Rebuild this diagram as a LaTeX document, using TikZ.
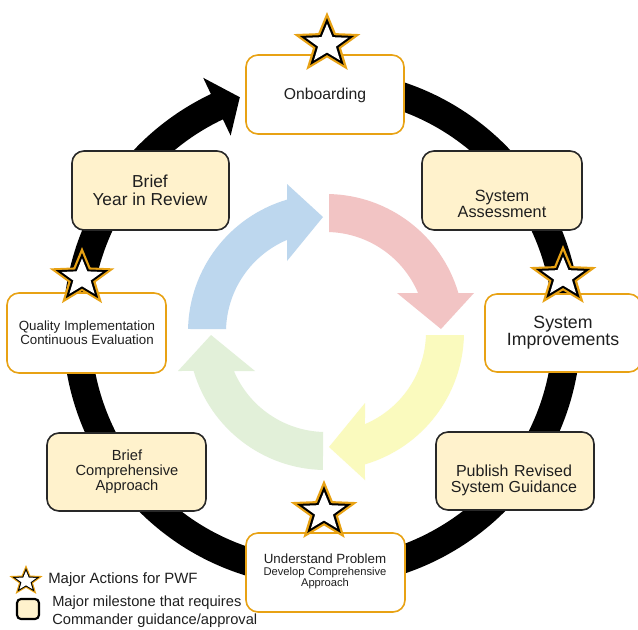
\documentclass[tikz,border=0pt]{standalone}
\usepackage{fontspec}
\setmainfont{Liberation Sans}
\definecolor{orng}{RGB}{232,162,20}
\definecolor{cream}{RGB}{255,242,204}
\definecolor{dark}{RGB}{40,40,40}
\definecolor{ablue}{RGB}{189,215,238}
\definecolor{ared}{RGB}{242,196,196}
\definecolor{ayel}{RGB}{250,250,190}
\definecolor{agrn}{RGB}{226,240,217}
\newcommand{\starshape}[1]{(-90:{#1}) -- (-54:{0.42*#1}) -- (-18:{#1}) -- (18:{0.42*#1}) -- (54:{#1}) -- (90:{0.42*#1}) -- (126:{#1}) -- (162:{0.42*#1}) -- (198:{#1}) -- (234:{0.42*#1}) -- cycle}
\newcommand{\armystar}[3]{%
  \begin{scope}[shift={(#1,#2)}, xscale=1.1]
    \fill[orng] \starshape{#3};
    \fill[black] \starshape{0.81*#3};
    \fill[white] \starshape{0.63*#3};
  \end{scope}}
\newcommand{\innerarrow}{(181.25:138) arc[start angle=181.25, end angle=253.6, radius=138] -- (-39,-148) -- (-3,-115) -- (-39,-71) -- (247.05:100) arc[start angle=247.05, end angle=181.72, radius=100] -- cycle}
\newcommand{\boxnode}[6]{\node[#2, minimum width={(#5-#3)*0.75pt}, minimum height={(#6-#4)*0.75pt}] (#1) at ({(#3+#5)/2},{(#4+#6)/2}) {};}
\begin{document}
\begin{tikzpicture}[x=0.75pt,y=-0.75pt,
  obox/.style={draw=orng, line width=1.2pt, fill=white, rounded corners=9pt, inner sep=0pt},
  cbox/.style={draw=dark, line width=1.2pt, fill=cream, rounded corners=9pt, inner sep=0pt},
  lbl/.style={align=center, inner sep=0pt, text=black!88}]
\useasboundingbox (0,0) rectangle (638,629);
\fill[white] (0,0) rectangle (638,629);

% black ring
\begin{scope}[shift={(322,328)}]
  \draw[line width=21pt] (-80:245) arc[start angle=-80, end angle=246, radius=245];
  \fill (244.6:277) -- (250.4:245) -- (244.6:213) -- cycle;
\end{scope}

% inner cycle arrows
\begin{scope}[shift={(326,332)}]
  \fill[ablue] \innerarrow;
  \begin{scope}[rotate=-90] \fill[ared] \innerarrow; \end{scope}
  \begin{scope}[rotate=-180] \fill[ayel] \innerarrow; \end{scope}
  \begin{scope}[rotate=-270] \fill[agrn] \innerarrow; \end{scope}
\end{scope}

% boxes
\boxnode{ob}{obox}{246}{55}{404}{134}
\boxnode{sa}{cbox}{422}{151}{582}{230}
\boxnode{si}{obox}{485}{294}{641}{372}
\boxnode{pr}{cbox}{436}{432}{594}{510}
\boxnode{up}{obox}{246}{533}{405}{612}
\boxnode{bc}{cbox}{47}{433}{206}{511}
\boxnode{qi}{obox}{7}{293}{166}{373}
\boxnode{by}{cbox}{72}{151}{229}{230}

% labels
\node[lbl, font=\fontsize{11.8}{14}\selectfont] (obt) at (325,95) {Onboarding};
\node[lbl, font=\fontsize{12.2}{12}\selectfont] (sat) at (502,204) {System\\Assessment};
\node[lbl, font=\fontsize{13.3}{12.75}\selectfont] (sit) at (563,333) {System\\Improvements};
\node[lbl, font=\fontsize{12}{12}\selectfont] (prt) at (514,480) {Publish\hspace{0.35em}Revised\\System Guidance};
\node[lbl, font=\fontsize{10}{12}\selectfont] (upt) at (325,559) {Understand Problem};
\node[lbl, font=\fontsize{8.4}{8.25}\selectfont] (upd) at (325,578.5) {Develop\hspace{0.3em}Comprehensive\\Approach};
\node[lbl, font=\fontsize{11}{11.25}\selectfont] (bct) at (127,472) {Brief\\Comprehensive\\Approach};
\node[lbl, font=\fontsize{10}{9}\selectfont] (qit) at (87,333) {Quality Implementation\\Continuous Evaluation};
\node[lbl, font=\fontsize{13}{13.5}\selectfont] (byt) at (150,190) {Brief\\Year in Review};

% stars
\armystar{327}{44}{32}
\armystar{82}{278}{31}
\armystar{563}{277}{32}
\armystar{324}{512}{32}

% legend
\armystar{26}{581}{16}
\node[draw=black, line width=1.6pt, fill=cream, rounded corners=3pt, minimum width=16.5pt, minimum height=15pt, inner sep=0pt] (lgb) at (28,609) {};
\node[lbl, anchor=west, font=\fontsize{11.2}{13}\selectfont] (lg1) at (48,580) {Major Actions for PWF};
\node[lbl, anchor=west, align=left, font=\fontsize{11}{13.5}\selectfont] (lg2) at (52,612) {Major milestone that requires\\Commander\hspace{0.3em}guidance/approval};
\end{tikzpicture}
\end{document}
